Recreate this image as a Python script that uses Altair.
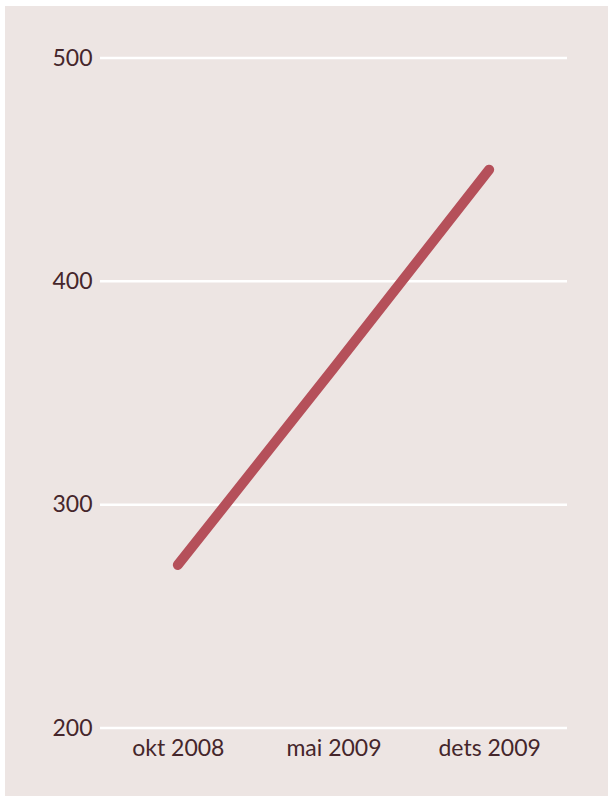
import altair as alt
import pandas as pd

# Monthly readings
months = ["okt 2008", "mai 2009", "dets 2009"]
values = [273, 361, 450]

# Y-axis ticks
y_ticks = [200, 300, 400, 500]

df = pd.DataFrame({"month": months, "value": values})
ticks_df = pd.DataFrame({"tick": y_ticks})

PANEL = "#EDE5E3"
TEXT = "#45262B"
LINE = "#B5505A"
FONT = "Lato"

y_scale = alt.Scale(domain=[200, 500], nice=False, zero=False)
y_axis = alt.Axis(
    title=None, values=y_ticks, domain=False, ticks=False, grid=False,
    labelPadding=8, labelFont=FONT, labelFontSize=23, labelFontWeight="normal",
    labelColor=TEXT, zindex=1,
)

# Tinted panel behind the plot, leaving a thin white margin top and left
panel = alt.Chart(df).mark_rect(color=PANEL).encode(
    x=alt.value(-95), x2=alt.value(508),
    y=alt.value(-52), y2=alt.value(738),
)

# White horizontal gridlines drawn beneath the series
grid = alt.Chart(ticks_df).mark_rule(color="white", strokeWidth=2.5).encode(
    y=alt.Y("tick:Q", scale=y_scale, axis=y_axis),
)

line = alt.Chart(df).mark_line(
    color=LINE, strokeWidth=10, strokeCap="round", strokeJoin="round"
).encode(
    x=alt.X(
        "month:N", sort=months,
        scale=alt.Scale(type="point", padding=0.5),
        axis=alt.Axis(
            title=None, labelAngle=0, domain=False, ticks=False, grid=False,
            labelPadding=9, labelFont=FONT, labelFontSize=23,
            labelFontWeight="normal", labelColor=TEXT, zindex=1,
        ),
    ),
    y=alt.Y("value:Q", scale=y_scale, axis=y_axis),
)

chart = (
    alt.layer(panel, grid, line)
    .properties(
        width=467, height=670,
        autosize=alt.AutoSizeParams(type="none"),
        padding={"left": 100, "top": 58, "right": 41, "bottom": 68},
        background="white",
    )
    .configure_view(stroke=None, fill=None)
)

chart.save("out.html", embed_options={"renderer": "svg", "actions": False})
